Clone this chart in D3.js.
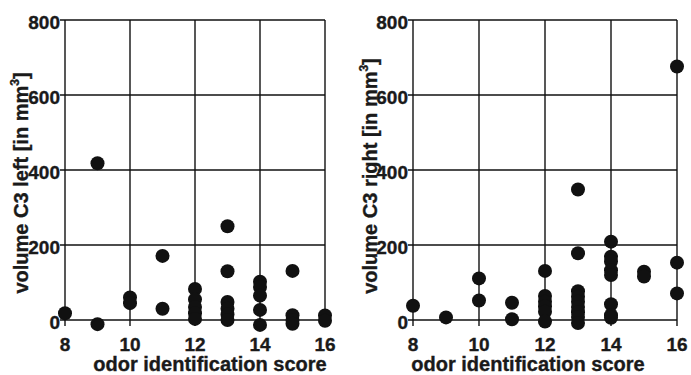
<!DOCTYPE html>
<html>
<head>
<meta charset="utf-8">
<script src="https://cdn.jsdelivr.net/npm/d3@7"></script>
<style>
  html, body { margin: 0; padding: 0; background: #fff; }
  svg { display: block; }
  text { stroke: #1a1a1a; stroke-width: 0.35px; }
</style>
</head>
<body>
<svg id="chart" width="691" height="375"></svg>
<script>
// ── Data ────────────────────────────────────────────────────────────────────
const xTicks = [8, 10, 12, 14, 16];
const yTicks = [0, 200, 400, 600, 800];

const leftScore = [8, 9, 9, 10, 10, 11, 11, 12, 12, 12, 12, 12,
  13, 13, 13, 13, 13, 13, 14, 14, 14, 14, 14, 15, 15, 15, 15, 16, 16];
const leftVolume = [18, 418, -11, 60, 45, 171, 30, 83, 55, 35, 18, 3,
  250, 130, 48, 30, 15, 0, 102, 88, 65, 27, -13, 131, 13, 0, -10, 12, -2];

const rightScore = [8, 9, 10, 10, 11, 11, 12, 12, 12, 12, 12, 12,
  13, 13, 13, 13, 13, 13, 13, 13, 13, 14, 14, 14, 14, 14, 14, 14, 14,
  15, 15, 16, 16, 16];
const rightVolume = [38, 7, 111, 52, 46, 2, 131, 64, 49, 36, 22, -4,
  348, 178, 77, 62, 49, 35, 21, 8, -8, 209, 169, 156, 133, 120, 42, 13, 6,
  129, 116, 676, 153, 71];

const panels = [
  { xs: leftScore, ys: leftVolume, label: 'volume C3 left [in mm',
    x0: 65, x1: 325, titleX: 210, labelX: 28, labelY: 183 },
  { xs: rightScore, ys: rightVolume, label: 'volume C3 right [in mm',
    x0: 413, x1: 677, titleX: 528, labelX: 377, labelY: 176 }
];

const font = 'Liberation Sans, Arial, sans-serif';
const ink = '#1a1a1a';
const plotTop = 20, plotBottom = 320, tickLen = 5, r = 7;

const svg = d3.select('#chart').style('font-family', font);

for (const p of panels) {
  const x = d3.scaleLinear().domain([8, 16]).range([p.x0, p.x1]);
  const y = d3.scaleLinear().domain([0, 800]).range([plotBottom, plotTop]);
  const g = svg.append('g');

  // ── Grid (doubles as the frame) ─────────────────────────────────────────
  g.selectAll('line.hgrid').data(yTicks).join('line')
    .attr('class', 'hgrid')
    .attr('x1', p.x0 - tickLen).attr('x2', p.x1)
    .attr('y1', d => y(d)).attr('y2', d => y(d))
    .attr('stroke', '#111').attr('stroke-width', 1.4);

  g.selectAll('line.vgrid').data(xTicks).join('line')
    .attr('class', 'vgrid')
    .attr('x1', d => x(d)).attr('x2', d => x(d))
    .attr('y1', plotTop).attr('y2', plotBottom + tickLen + 1)
    .attr('stroke', '#111').attr('stroke-width', 1.4);

  // ── Tick labels ─────────────────────────────────────────────────────────
  g.selectAll('text.ytick').data(yTicks).join('text')
    .attr('class', 'ytick')
    .attr('x', p.x0 - tickLen)
    .attr('y', d => y(d) + 9)
    .attr('text-anchor', 'end')
    .attr('font-size', '19px').attr('font-weight', 'bold').attr('fill', ink)
    .text(d => d);

  g.selectAll('text.xtick').data(xTicks).join('text')
    .attr('class', 'xtick')
    .attr('x', d => x(d))
    .attr('y', 351)
    .attr('text-anchor', 'middle')
    .attr('font-size', '19px').attr('font-weight', 'bold').attr('fill', ink)
    .text(d => d);

  // ── Axis titles ─────────────────────────────────────────────────────────
  g.append('text')
    .attr('x', p.titleX)
    .attr('y', 371)
    .attr('text-anchor', 'middle')
    .attr('font-size', '20px').attr('font-weight', 'bold').attr('fill', ink)
    .text('odor identification score');

  const yl = g.append('text')
    .attr('transform', `translate(${p.labelX},${p.labelY}) rotate(-90)`)
    .attr('text-anchor', 'middle')
    .attr('font-size', '20px').attr('font-weight', 'bold').attr('fill', ink);
  yl.append('tspan').text(p.label);
  yl.append('tspan').attr('font-size', '12px').attr('dy', '-0.75em').text('3');
  yl.append('tspan').attr('dy', '0.45em').text(']');

  // ── Points ──────────────────────────────────────────────────────────────
  g.selectAll('circle').data(d3.range(p.xs.length)).join('circle')
    .attr('cx', i => x(p.xs[i]))
    .attr('cy', i => y(p.ys[i]))
    .attr('r', r)
    .attr('fill', '#111');
}
</script>
</body>
</html>
